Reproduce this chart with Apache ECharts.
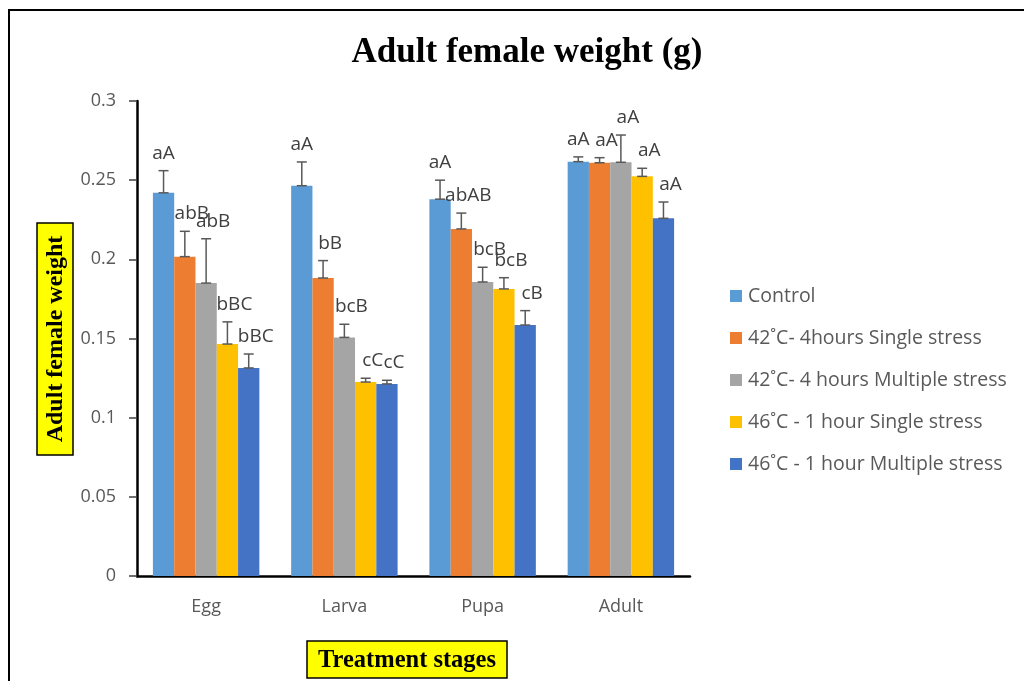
<!DOCTYPE html>
<html>
    <head>
        <meta charset="utf-8">
        <title>Adult female weight</title>
        <script src="https://cdn.jsdelivr.net/npm/echarts@6/dist/echarts.min.js"></script>
        <style>
            body { margin: 0; background: #fff; }
        </style>
    </head>
    <body>
        <div id="main" style="width: 1024px;height: 681px;"></div>

        <script>
            // data
            let stages = ['Egg', 'Larva', 'Pupa', 'Adult'];
            let seriesNames = ['Control', '42˚C- 4hours Single stress', '42˚C- 4 hours Multiple stress', '46˚C - 1 hour Single stress', '46˚C - 1 hour Multiple stress'];
            let control = [0.242, 0.2465, 0.238, 0.2617];
            let single42 = [0.2017, 0.1882, 0.2192, 0.261];
            let multiple42 = [0.185, 0.1507, 0.1857, 0.2613];
            let single46 = [0.1465, 0.1225, 0.1813, 0.2524];
            let multiple46 = [0.1314, 0.1213, 0.1585, 0.2259];
            let errControl = [0.014, 0.015, 0.012, 0.003];
            let errSingle42 = [0.016, 0.011, 0.010, 0.0032];
            let errMultiple42 = [0.028, 0.0083, 0.0093, 0.0172];
            let errSingle46 = [0.014, 0.0024, 0.0071, 0.0051];
            let errMultiple46 = [0.0088, 0.0023, 0.0091, 0.0103];
            let lblControl = ['aA', 'aA', 'aA', 'aA'];
            let lblSingle42 = ['abB', 'bB', 'abAB', 'aA'];
            let lblMultiple42 = ['abB', 'bcB', 'bcB', 'aA'];
            let lblSingle46 = ['bBC', 'cC', 'bcB', 'aA'];
            let lblMultiple46 = ['bBC', 'cC', 'cB', 'aA'];
            let yTicks = [0, 0.05, 0.1, 0.15, 0.2, 0.25, 0.3];

            let values = [control, single42, multiple42, single46, multiple46];
            let errors = [errControl, errSingle42, errMultiple42, errSingle46, errMultiple46];
            let letters = [lblControl, lblSingle42, lblMultiple42, lblSingle46, lblMultiple46];
            let colors = ['#5B9BD5', '#ED7D31', '#A5A5A5', '#FFC000', '#4472C4'];
            let gapPct = 0.23;

            let series = [];
            for (let i = 0; i < values.length; i++) {
                series.push({
                    name: seriesNames[i],
                    type: 'bar',
                    data: values[i],
                    barGap: '0%',
                    barCategoryGap: '23%',
                    itemStyle: { color: colors[i] }
                });
            }
            // error bars + letters
            for (let i = 0; i < values.length; i++) {
                let rows = values[i].map(function (v, k) { return [k, v, v + errors[i][k], letters[i][k]]; });
                series.push({
                    type: 'custom',
                    name: 'err' + i,
                    data: rows,
                    z: 10,
                    silent: true,
                    encode: { x: 0, y: [1, 2] },
                    renderItem: function (params, api) {
                        let band = api.size([1, 0])[0];
                        let group = band * (1 - gapPct);
                        let bw = group / 5;
                        let off = -group / 2 + bw * (i + 0.5);
                        let lo = api.coord([api.value(0), api.value(1)]);
                        let hi = api.coord([api.value(0), api.value(2)]);
                        let x = lo[0] + off;
                        let cap = 5;
                        let st = { stroke: '#595959', lineWidth: 1.5 };
                        return {
                            type: 'group',
                            children: [
                                { type: 'line', shape: { x1: x, y1: lo[1], x2: x, y2: hi[1] }, style: st },
                                { type: 'line', shape: { x1: x - cap, y1: hi[1], x2: x + cap, y2: hi[1] }, style: st },
                                { type: 'line', shape: { x1: x - cap, y1: lo[1], x2: x + cap, y2: lo[1] }, style: st },
                                {
                                    type: 'text',
                                    x: x + (i === 0 ? 0 : 7),
                                    y: hi[1] - 8,
                                    style: {
                                        text: api.value(3),
                                        fill: '#404040',
                                        font: '19px "Open Sans", sans-serif',
                                        align: 'center',
                                        verticalAlign: 'bottom'
                                    }
                                }
                            ]
                        };
                    }
                });
            }

            var option = {
                animation: false,
                title: {
                    text: 'Adult female weight (g)',
                    left: 522,
                    textAlign: 'center',
                    top: 30,
                    textStyle: { fontFamily: 'Liberation Serif', fontWeight: 'bold', fontSize: 35, color: '#000' }
                },
                legend: {
                    orient: 'vertical',
                    left: 725,
                    top: 281,
                    itemWidth: 12,
                    itemHeight: 12,
                    itemGap: 22,
                    icon: 'rect',
                    data: seriesNames,
                    textStyle: { fontFamily: '"Open Sans", sans-serif', fontSize: 19.5, color: '#595959', padding: [0, 0, 0, 1] }
                },
                grid: {
                    left: 137,
                    right: 334,
                    top: 101,
                    bottom: 105
                },
                xAxis: {
                    type: 'category',
                    data: stages,
                    axisLine: { lineStyle: { color: '#000', width: 2.5 } },
                    axisTick: { show: false },
                    axisLabel: { color: '#595959', fontSize: 18, fontFamily: '"Open Sans", sans-serif', margin: 22 }
                },
                yAxis: {
                    type: 'value',
                    min: yTicks[0],
                    max: yTicks[yTicks.length - 1],
                    interval: 0.05,
                    splitLine: { show: false },
                    axisLine: { show: true, lineStyle: { color: '#000', width: 2.5 } },
                    axisTick: { show: true, length: 8, lineStyle: { color: '#404040', width: 1.5 } },
                    axisLabel: { color: '#595959', fontSize: 18, fontFamily: '"Open Sans", sans-serif', margin: 21 }
                },
                graphic: [
                    {
                        type: 'rect',
                        shape: { x: 9, y: 10, width: 1100, height: 800 },
                        style: { fill: 'none', stroke: '#000', lineWidth: 2 },
                        silent: true
                    },
                    {
                        type: 'rect',
                        shape: { x: 37, y: 223, width: 36, height: 232 },
                        style: { fill: '#FFFF00', stroke: '#000', lineWidth: 1.5 }
                    },
                    {
                        type: 'text',
                        x: 56,
                        y: 339,
                        rotation: Math.PI / 2,
                        style: {
                            text: 'Adult female weight',
                            font: 'bold 24px "Liberation Serif"',
                            fill: '#000',
                            align: 'center',
                            verticalAlign: 'middle'
                        }
                    },
                    {
                        type: 'rect',
                        shape: { x: 307, y: 641, width: 200, height: 37 },
                        style: { fill: '#FFFF00', stroke: '#000', lineWidth: 1.5 }
                    },
                    {
                        type: 'text',
                        x: 407,
                        y: 661,
                        style: {
                            text: 'Treatment stages',
                            font: 'bold 24.5px "Liberation Serif"',
                            fill: '#000',
                            align: 'center',
                            verticalAlign: 'middle'
                        }
                    }
                ],
                series: series
            };
            let chart = echarts.init(document.getElementById('main'));
            chart.setOption(option);
        </script>
    </body>
</html>
